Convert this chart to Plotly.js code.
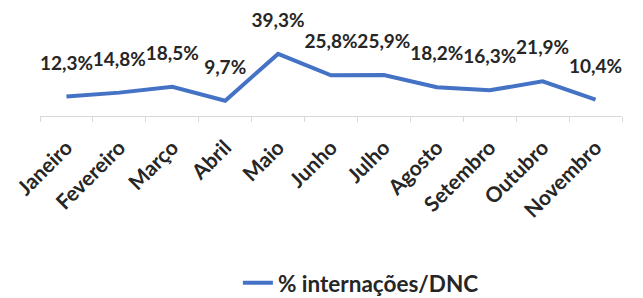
<!DOCTYPE html>
<html>
<head>
<meta charset="utf-8">
<script src="https://cdn.plot.ly/plotly-3.0.1.min.js"></script>
<style>html,body{margin:0;padding:0;background:#fff;}#chart{width:643px;height:298px;}</style>
</head>
<body>
<div id="chart"></div>
<script>
const months = ["Janeiro","Fevereiro","Março","Abril","Maio","Junho","Julho","Agosto","Setembro","Outubro","Novembro"];
const values = [12.3, 14.8, 18.5, 9.7, 39.3, 25.8, 25.9, 18.2, 16.3, 21.9, 10.4];
const labels = ["12,3%","14,8%","18,5%","9,7%","39,3%","25,8%","25,9%","18,2%","16,3%","21,9%","10,4%"];
const seriesName = "% internações/DNC";

const font = "Lato, 'Open Sans', sans-serif";
const trace = {
  x: months,
  y: values,
  type: "scatter",
  mode: "lines+markers+text",
  name: seriesName,
  line: {color: "#4472C4", width: 4},
  marker: {size: 34, color: "rgba(0,0,0,0)"},
  text: labels,
  textposition: "top center",
  textfont: {family: font, size: 19, color: "#262626", weight: 700},
  cliponaxis: false,
  hoverinfo: "none"
};
const layout = {
  width: 643, height: 298,
  margin: {l: 40, r: 21, t: 37, b: 182},
  paper_bgcolor: "#fff", plot_bgcolor: "#fff",
  showlegend: true,
  legend: {orientation: "h", xref: "paper", x: 0.340, xanchor: "left",
           yref: "container", y: 0.05, yanchor: "middle",
           font: {family: font, size: 22.5, color: "#262626", weight: 700}},
  xaxis: {
    type: "category", range: [-0.5, 10.5], tickangle: -45, tickson: "boundaries",
    ticks: "outside", ticklen: 5, tickcolor: "#d9d9d9",
    showline: true, linecolor: "#d9d9d9", linewidth: 1,
    showgrid: false, zeroline: false, fixedrange: true,
    ticklabelstandoff: 10,
    tickfont: {family: font, size: 21, color: "#262626", weight: 700}
  },
  yaxis: {range: [0, 50], visible: false, fixedrange: true}
};
Plotly.newPlot("chart", [trace], layout, {displayModeBar: false, staticPlot: true});
</script>
</body>
</html>
